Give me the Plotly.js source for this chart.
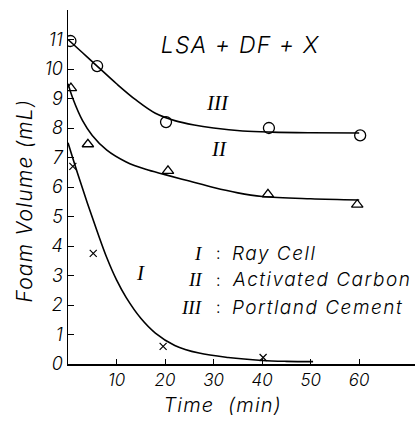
<!DOCTYPE html>
<html>
<head>
<meta charset="utf-8">
<script src="https://cdn.plot.ly/plotly-3.0.1.min.js"></script>
<style>html,body{margin:0;padding:0;background:#fff;}#plot{width:418px;height:423px;}</style>
</head>
<body>
<div id="plot"></div>
<script>
// measured points
const timeIII = [0.5, 6.0, 20.2, 41.4, 60.2];
const volIII  = [10.95, 10.1, 8.2, 8.0, 7.75];
const timeII  = [0.6, 4.1, 20.6, 41.2, 59.6];
const volII   = [9.35, 7.45, 6.55, 5.75, 5.4];
const timeI   = [1.0, 5.2, 19.6, 40.2];
const volI    = [6.7, 3.75, 0.6, 0.22];

// hand-drawn fitted curves
const curveIIIx = [0, 3, 6, 10, 14, 18, 22, 26, 30, 36, 42, 50, 60];
const curveIIIy = [11.0, 10.55, 10.1, 9.5, 8.95, 8.5, 8.25, 8.1, 8.0, 7.9, 7.86, 7.84, 7.83];
const curveIIx  = [0, 1, 3, 5, 8, 12, 16, 20, 25, 30, 35, 40, 50, 60];
const curveIIy  = [9.5, 9.0, 8.25, 7.75, 7.25, 6.85, 6.6, 6.42, 6.2, 5.98, 5.8, 5.68, 5.6, 5.56];
const curveIx   = [0, 2, 4, 6, 8, 10, 12, 15, 18, 22, 27, 33, 40, 45, 50.5];
const curveIy   = [7.5, 6.45, 5.45, 4.5, 3.6, 2.85, 2.25, 1.55, 1.05, 0.63, 0.37, 0.22, 0.12, 0.09, 0.08];

const yTicks = [0,1,2,3,4,5,6,7,8,9,10,11];
const xTicks = [10,20,30,40,50,60];
const numerals = ['I','II','III'];
const materials = ['Ray Cell','Activated Carbon','Portland Cement'];
const titleText = 'LSA + DF + X';
const xTitle = 'Time\u00a0\u00a0(min)';
const yTitle = 'Foam Volume (mL)';

const FONT = 'Inter, DejaVu Sans, sans-serif';
const SERIF = 'Liberation Serif, DejaVu Serif, serif';

const lineStyle = {color:'#000', width:1.6, shape:'spline', smoothing:1};
const traces = [
  {x: curveIIIx, y: curveIIIy, mode:'lines', line:lineStyle, hoverinfo:'skip'},
  {x: curveIIx, y: curveIIy, mode:'lines', line:lineStyle, hoverinfo:'skip'},
  {x: curveIx, y: curveIy, mode:'lines', line:lineStyle, hoverinfo:'skip'},
  {x: timeIII, y: volIII, mode:'markers', marker:{symbol:'circle-open', size:11, color:'#000', line:{width:1.3}}},
  {x: timeII, y: volII, mode:'markers', marker:{symbol:'triangle-up-open', size:10, color:'#000', line:{width:1.3}}},
  {x: timeI, y: volI, mode:'markers', marker:{symbol:'x-thin-open', size:7, color:'#000', line:{width:1.2}}}
];

const annotations = [
  {x: 35.5, y: 10.8, xref:'x', yref:'y', text: titleText, showarrow:false,
   font:{family:FONT, size:23, weight:300, color:'#000', style:'italic'}},
  {x: 15.0, y: 3.1, xref:'x', yref:'y', text: numerals[0], showarrow:false,
   font:{family:SERIF, size:21, color:'#000', style:'italic'}},
  {x: 31.1, y: 7.3, xref:'x', yref:'y', text: numerals[1], showarrow:false,
   font:{family:SERIF, size:21, color:'#000', style:'italic'}},
  {x: 30.8, y: 8.85, xref:'x', yref:'y', text: numerals[2], showarrow:false,
   font:{family:SERIF, size:21, color:'#000', style:'italic'}}
];
const legY = [3.76, 2.85, 1.93];
for (let i = 0; i < 3; i++) {
  annotations.push({x: 28.2, y: legY[i], xref:'x', yref:'y', xanchor:'right', text: numerals[i], showarrow:false,
    font:{family:SERIF, size:19, color:'#000', style:'italic'}});
  annotations.push({x: 31.0, y: legY[i], xref:'x', yref:'y', xanchor:'center', text: ':', showarrow:false,
    font:{family:FONT, size:16, weight:300, color:'#000'}});
  annotations.push({x: 33.4, y: legY[i], xref:'x', yref:'y', xanchor:'left', align:'left', text: materials[i], showarrow:false,
    font:{family:FONT, size:19, weight:300, color:'#000', style:'italic'}});
}
annotations.push({x: 24, y: 201, xref:'paper', yref:'paper', text: yTitle, textangle:-90, showarrow:false,
  font:{family:FONT, size:21, weight:300, color:'#000', style:'italic'}});
annotations.push({x: 222, y: 405, xref:'paper', yref:'paper', text: xTitle, showarrow:false,
  font:{family:FONT, size:20, weight:300, color:'#000', style:'italic'}});

// convert pixel positions for the two axis titles to paper coords
const W = 418, H = 423, ML = 68, MR = 3, MT = 10, MB = 59;
for (const a of annotations) {
  if (a.xref === 'paper') {
    a.x = (a.x - ML) / (W - ML - MR);
    a.y = 1 - (a.y - MT) / (H - MT - MB);
    a.xanchor = 'center'; a.yanchor = 'middle';
  }
}

const layout = {
  width: W, height: H,
  margin: {l: ML, r: MR, t: MT, b: MB},
  paper_bgcolor: '#fff', plot_bgcolor: '#fff',
  showlegend: false,
  font: {family: FONT, color: '#000'},
  xaxis: {
    range: [0, 71.5], showgrid: false, zeroline: false,
    showline: true, linecolor: '#000', linewidth: 1.5,
    ticks: 'inside', ticklen: 5, tickwidth: 1, tickcolor: '#000',
    tickmode: 'array', tickvals: xTicks, ticktext: xTicks.map(String),
    tickfont: {family: FONT, size: 17, weight: 300, style: 'italic'}
  },
  yaxis: {
    range: [0, 12], showgrid: false, zeroline: false,
    showline: true, linecolor: '#000', linewidth: 1.5,
    ticks: 'inside', ticklen: 6, tickwidth: 1, tickcolor: '#000',
    tickmode: 'array', tickvals: yTicks, ticktext: yTicks.map(String),
    tickfont: {family: FONT, size: 18, weight: 300, style: 'italic'}
  },
  annotations: annotations
};

Plotly.newPlot('plot', traces, layout, {staticPlot: true, displayModeBar: false}).then(function () {
  document.querySelectorAll('.annotation-text').forEach(function (t) {
    const txt = t.textContent;
    if (txt.length > 3) t.setAttribute('letter-spacing', materials.indexOf(txt) >= 0 ? '1.5px' : '1.2px');
  });
});
</script>
</body>
</html>
